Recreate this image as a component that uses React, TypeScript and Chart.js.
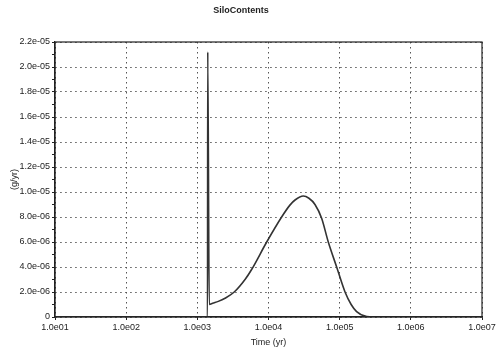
import React, { useEffect, useRef } from "react";
import { Chart, registerables } from "chart.js";

Chart.register(...registerables);

const chartTitle = "SiloContents";
const xAxisLabel = "Time (yr)";
const yAxisLabel = "(g/yr)";

const timeYears = [
  10, 1390, 1400, 1470, 1640, 1970, 2450, 3300, 4680, 5790, 9440, 15300, 20000,
  23600, 30800, 37000, 45000, 55800, 69200, 90700, 118900, 145000, 173000,
  240000, 300000, 1e7,
];
const siloRate = [
  0, 0, 2.12e-5, 1.0e-6, 1.1e-6, 1.25e-6, 1.5e-6, 2.0e-6, 3.0e-6, 3.8e-6, 6.0e-6,
  8.0e-6, 8.95e-6, 9.36e-6, 9.68e-6, 9.5e-6, 9.0e-6, 7.9e-6, 6.0e-6, 4.0e-6,
  2.0e-6, 1.0e-6, 0.43e-6, 0.03e-6, 0, 0,
];
const xTickValues = [1e1, 1e2, 1e3, 1e4, 1e5, 1e6, 1e7];
const yMinorStep = 1e-6;
const yTickCount = 23; // 0 .. 2.2e-05

function fmtX(v: number): string {
  const k = Math.round(Math.log10(v));
  return "1.0e" + (k < 10 ? "0" + k : String(k));
}

function fmtY(v: number): string {
  if (Math.abs(v) < 1e-12) return "0";
  const s = v.toExponential(1);
  const [m, e] = s.split("e");
  const n = parseInt(e, 10);
  const sign = n < 0 ? "-" : "+";
  const a = Math.abs(n);
  return m + "e" + sign + (a < 10 ? "0" + a : String(a));
}

const frame = {
  id: "frame",
  afterDraw(chart: any) {
    const { ctx, chartArea } = chart;
    ctx.save();
    ctx.strokeStyle = "#222";
    ctx.lineWidth = 1.2;
    ctx.strokeRect(chartArea.left, chartArea.top, chartArea.right - chartArea.left, chartArea.bottom - chartArea.top);
    ctx.restore();
  },
};

export default function App() {
  const ref = useRef<HTMLCanvasElement | null>(null);
  useEffect(() => {
    if (!ref.current) return;
    const font = { family: "'Liberation Sans', Arial, sans-serif", size: 9 };
    const chart = new Chart(ref.current, {
      type: "line",
      data: {
        datasets: [
          {
            label: chartTitle,
            data: timeYears.map((t, i) => ({ x: t, y: siloRate[i] })),
            borderColor: "#333",
            borderWidth: 1.6,
            pointRadius: 0,
            cubicInterpolationMode: "monotone",
            fill: false,
          },
        ],
      },
      options: {
        responsive: false,
        animation: false,
        layout: { padding: { left: 0, right: 16, top: 0, bottom: 0 } },
        plugins: {
          legend: { display: false },
          tooltip: { enabled: false },
          title: {
            display: true,
            text: chartTitle,
            color: "#222",
            font: { ...font, size: 9, weight: "bold" },
            padding: { top: 5, bottom: 26.2 },
          },
        },
        scales: {
          x: {
            type: "logarithmic",
            min: 10,
            max: 1e7,
            afterBuildTicks: (scale: any) => {
              scale.ticks = xTickValues.map((v) => ({ value: v }));
            },
            afterFit: (scale: any) => {
              scale.height = 34;
            },
            ticks: {
              color: "#222",
              font,
              maxRotation: 0,
              autoSkip: false,
              padding: 2,
              callback: (v: any) => fmtX(Number(v)),
            },
            grid: {
              color: "#555",
              lineWidth: 1,
              tickLength: 3,
              tickColor: "#222",
              borderDash: [1.5, 3.5],
            } as any,
            border: { display: true, color: "#222", width: 1.2, dash: [1.5, 3.5] } as any,
            title: {
              display: true,
              text: xAxisLabel,
              color: "#222",
              font,
              padding: { top: 0, bottom: 3 },
            },
          },
          y: {
            type: "linear",
            min: 0,
            max: 2.2e-5,
            afterBuildTicks: (scale: any) => {
              const t = [];
              for (let i = 0; i < yTickCount; i++) t.push({ value: i * yMinorStep });
              scale.ticks = t;
            },
            afterFit: (scale: any) => {
              scale.width = 55;
            },
            ticks: {
              color: "#222",
              font,
              autoSkip: false,
              padding: 2,
              callback: (v: any, i: number) => (i % 2 === 0 ? fmtY(Number(v)) : ""),
            },
            grid: {
              color: (c: any) => (c.index % 2 === 0 ? "#555" : "rgba(0,0,0,0)"),
              lineWidth: 1,
              tickLength: 3,
              tickColor: "#222",
              borderDash: [1.5, 3.5],
            } as any,
            border: { display: true, color: "#222", width: 1.2, dash: [1.5, 3.5] } as any,
            title: {
              display: true,
              text: yAxisLabel,
              color: "#222",
              font,
              padding: { top: 9, bottom: 0 },
            },
          },
        },
      } as any,
      plugins: [frame],
    });
    return () => chart.destroy();
  }, []);
  return (
    <canvas
      ref={ref}
      width={498}
      height={351}
      style={{ position: "absolute", left: 0, top: 0, display: "block" }}
    />
  );
}
